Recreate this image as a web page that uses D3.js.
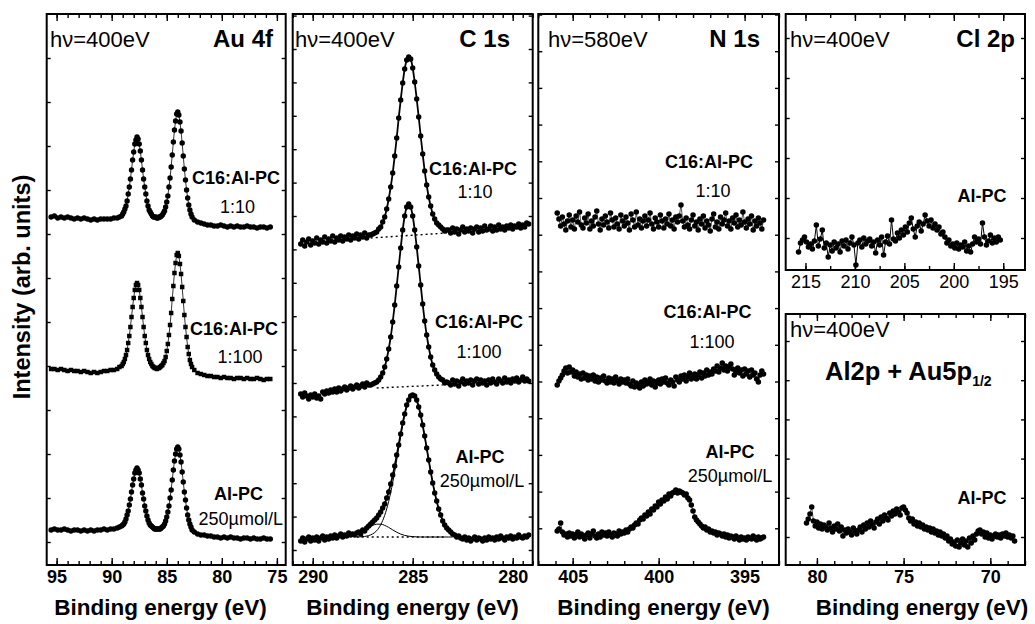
<!DOCTYPE html>
<html>
<head>
<meta charset="utf-8">
<script src="https://cdn.jsdelivr.net/npm/d3@7"></script>
<style>
  body { margin: 0; background: #fff; }
  svg text { font-family: "Liberation Sans", Arial, Helvetica, sans-serif; fill: #000; }
</style>
</head>
<body>
<div id="chart"></div>
<script>
// ---------- Au 4f (hv = 400 eV) ----------
var au4fEnergy = [95.5,95.2,94.9,94.6,94.3,94.0,93.7,93.4,93.1,92.8,92.5,92.2,91.9,91.6,91.3,91.0,90.7,90.4,90.1,89.8,89.5,89.3,89.1,
  89.0,88.9,88.8,88.7,88.6,88.5,88.4,88.3,88.2,88.1,88.0,87.9,87.8,87.7,87.6,87.5,87.4,87.3,87.2,87.1,87.0,86.9,86.8,86.7,86.6,86.5,86.4,
  86.3,86.2,86.1,86.0,85.9,85.8,85.7,85.6,85.5,85.4,85.3,85.2,85.1,85.0,84.9,84.8,84.7,84.6,84.5,84.4,84.3,84.2,84.1,84.0,
  83.9,83.8,83.7,83.6,83.5,83.4,83.3,83.2,83.1,83.0,82.9,82.8,82.7,
  82.5,82.2,81.9,81.6,81.3,81.0,80.7,80.4,80.1,79.8,79.5,79.2,78.9,78.6,78.3,78.0,77.7,77.4,77.1,76.8,76.5,76.2,75.9,75.6];
var au4fC16_10 = [348,349,347,348,347,348,347,346,347,346,347,346,345,346,345,346,346,346,346,347,347,348,349,
  351,353,356,359,364,371,378,386,395,405,413,421,425,428,426,421,414,405,395,386,378,371,364,359,355,353,351,
  349,348,348,348,347,347,348,348,349,350,352,354,358,363,369,378,387,398,410,423,435,444,451,453,
  450,443,434,422,409,396,385,375,367,360,355,351,348,
  345,343,342,341,340,340,339,339,340,339,338,339,338,339,338,338,339,338,338,337,338,338,337,338];
var au4fC16_100 = [196,196,195,196,195,194,195,194,194,193,194,193,192,193,192,193,194,194,195,195,196,198,199,
  201,203,206,210,215,222,229,238,248,258,267,275,280,282,280,275,267,258,248,238,229,222,215,210,206,203,201,
  199,198,197,197,196,197,197,198,199,200,202,204,208,214,221,230,240,252,266,279,292,302,310,312,
  309,301,291,278,264,250,238,228,218,211,205,201,198,
  195,192,191,190,189,189,188,188,187,188,187,187,186,187,187,186,187,186,186,187,186,185,186,186];
var au4fAlPC = [35,36,35,35,36,35,34,35,35,34,35,34,35,34,35,35,36,35,36,36,37,38,39,
  40,41,43,46,50,54,60,66,73,80,86,92,95,97,95,92,86,80,72,66,59,54,49,45,42,40,39,
  38,37,36,36,36,36,36,36,37,38,39,41,44,48,53,59,67,75,85,95,104,111,116,118,
  116,110,103,93,83,73,65,57,50,45,41,38,35,
  33,31,30,30,29,29,28,28,27,28,27,28,27,27,26,27,27,26,27,26,26,27,26,26];

// ---------- C 1s (hv = 400 eV) ----------
var c1sEnergy = [290.6,290.5,290.4,290.3,290.2,290.1,290.0,289.9,289.8,289.7,289.6,289.5,289.4,289.3,289.2,289.1,289.0,
  288.9,288.8,288.7,288.6,288.5,288.4,288.3,288.2,288.1,288.0,287.9,287.8,287.7,287.6,287.5,287.4,287.3,287.2,
  287.1,287.0,286.9,286.8,286.7,286.6,286.5,286.4,286.3,286.2,286.1,286.0,285.9,285.8,285.7,285.6,285.5,285.4,285.3,285.2,
  285.1,285.0,284.9,284.8,284.7,284.6,284.5,284.4,284.3,284.2,284.1,284.0,283.9,283.8,283.7,283.6,283.5,283.4,283.3,
  283.2,283.1,283.0,282.9,282.8,282.7,282.6,282.5,282.4,282.3,282.2,282.1,282.0,281.9,281.8,281.7,281.6,281.5,281.4,281.3,
  281.2,281.1,281.0,280.9,280.8,280.7,280.6,280.5,280.4,280.3,280.2,280.1,280.0,279.9,279.8,279.7,279.6,279.5,279.4,279.3,279.2];
var c1sC16_10 = [321,325,319,323,326,320,324,
  322,327,321,325,323,328,322,326,324,329,
  323,327,325,329,324,328,326,330,325,329,
  327,331,326,330,328,332,327,330,
  330,331,332,333,336,338,343,348,356,366,378,392,409,427,447,465,482,496,505,508,
  506,497,483,466,448,429,411,394,380,368,359,351,346,342,340,338,336,334,335,
  335,332,337,333,336,331,335,338,333,336,
  334,337,332,336,338,333,337,334,339,335,
  336,339,334,338,335,340,336,338,335,339,
  337,340,336,339,338,341,337,340,338,342,341];
var c1sC16_100 = [171,168,172,169,166,170,168,
  171,167,169,166,173,171,174,172,175,173,
  176,173,177,174,176,178,175,177,179,176,
  178,180,177,179,181,178,182,180,
  180,181,182,183,185,188,192,198,206,216,228,243,260,279,298,317,335,349,358,361,
  358,349,335,318,299,280,261,244,230,218,208,200,195,191,188,186,185,182,183,
  182,180,185,181,184,179,183,186,181,184,
  182,185,180,184,186,181,185,182,184,180,
  185,182,186,183,181,186,184,182,187,183,
  185,182,186,184,187,183,185,188,184,186,184];
var c1sAlPC = [24,27,23,26,28,24,27,
  25,28,24,27,29,25,28,26,29,27,
  30,27,29,31,28,30,29,32,30,31,
  30,32,33,31,35,34,37,39,
  41,43,45,47,50,53,57,61,67,73,81,90,99,110,120,131,142,151,160,165,
  169,170,169,165,158,150,140,129,117,105,93,82,72,64,56,50,44,40,37,
  35,33,31,30,28,29,27,26,28,25,
  27,24,26,28,25,27,26,24,27,25,
  28,26,27,25,28,26,29,27,25,28,
  27,29,26,28,27,30,28,27,29,28,30];
// fit of the Al-PC C 1s spectrum: envelope, main component, high-BE shoulder
var c1sFitEnergy = [288.0,287.8,287.6,287.4,287.2,287.0,286.8,286.6,286.4,286.2,286.0,285.8,285.6,285.4,285.2,285.0,
  284.8,284.6,284.4,284.2,284.0,283.8,283.6,283.4,283.2,283.0,282.8,282.6];
var c1sFitEnvelope = [29.6,30.9,33.0,35.7,39.0,42.7,47.1,53.0,61.3,73.3,89.5,109.7,131.5,151.4,165.4,170.4,
  164.7,149.8,128.6,104.9,82.4,63.7,49.7,40.2,34.3,31.1,29.4,28.6];
var c1sFitMain = [28.0,28.0,28.2,28.6,29.4,31.1,34.3,40.2,49.7,63.7,82.4,104.9,128.6,149.8,164.6,170.0,
  164.6,149.8,128.6,104.9,82.4,63.7,49.7,40.2,34.3,31.1,29.4,28.6];
var c1sFitShoulder = [29.6,30.9,32.8,35.1,37.6,39.6,40.8,40.8,39.6,37.6,35.1,32.8,30.9,29.6,28.8,28.4,
  28.1,28.0,28.0,28.0,28.0,28.0,28.0,28.0,28.0,28.0];
// linear backgrounds [energy, intensity]
var c1sBackgrounds = [
  [[287.1, 327], [283.3, 332]],
  [[286.8, 177], [283.5, 180]],
  [[287.8, 28], [283.4, 28]]
];

// ---------- N 1s (hv = 580 eV) ----------
var n1sEnergy = [405.9,405.8,405.7,405.6,405.5,405.4,405.3,405.2,405.1,405.0,
  404.9,404.8,404.7,404.6,404.5,404.4,404.3,404.2,404.1,404.0,
  403.9,403.8,403.7,403.6,403.5,403.4,403.3,403.2,403.1,403.0,
  402.9,402.8,402.7,402.6,402.5,402.4,402.3,402.2,402.1,402.0,
  401.9,401.8,401.7,401.6,401.5,401.4,401.3,401.2,401.1,401.0,
  400.9,400.8,400.7,400.6,400.5,400.4,400.3,400.2,400.1,400.0,
  399.9,399.8,399.7,399.6,399.5,399.4,399.3,399.2,399.1,399.0,
  398.9,398.8,398.7,398.6,398.5,398.4,398.3,398.2,398.1,398.0,
  397.9,397.8,397.7,397.6,397.5,397.4,397.3,397.2,397.1,397.0,
  396.9,396.8,396.7,396.6,396.5,396.4,396.3,396.2,396.1,396.0,
  395.9,395.8,395.7,395.6,395.5,395.4,395.3,395.2,395.1,395.0,
  394.9,394.8,394.7,394.6,394.5,394.4,394.3,394.2,394.1,394.0,393.9];
var n1sC16_10 = [352,346,339,348,341,335,344,350,338,345,
  336,349,343,353,340,337,347,342,351,336,
  344,339,348,354,341,335,346,340,349,343,
  337,352,345,338,347,341,336,350,344,339,
  348,342,335,351,345,338,353,340,346,337,
  344,349,339,345,352,341,336,347,343,338,
  350,344,337,346,341,351,339,345,336,348,
  343,349,360,344,338,347,340,336,345,350,
  339,343,335,346,341,349,337,344,340,334,
  346,351,338,343,336,348,341,345,352,339,
  344,336,347,342,350,338,345,340,353,343,
  337,346,341,349,335,344,339,347,342,336,345];
var n1sC16_100 = [180,184,187,190,194,197,192,198,193,195,
  189,193,188,191,186,192,187,190,185,189,
  186,190,184,188,183,187,185,189,184,182,
  187,183,186,182,188,184,181,186,183,185,
  182,186,181,179,184,178,182,180,177,183,
  179,185,181,183,186,180,184,178,182,185,
  181,186,183,187,182,180,185,183,179,188,
  185,183,189,186,190,184,188,192,186,189,
  191,186,190,193,187,192,189,195,190,193,
  191,196,194,199,193,197,202,195,199,194,
  198,201,196,190,194,197,192,195,189,196,
  191,194,188,195,190,192,186,183,190,194,191];
var n1sAlPC = [34,36,42,33,30,31,28,32,29,31,
  27,30,33,28,31,29,26,30,32,27,
  31,34,29,27,31,28,33,30,32,29,
  33,30,28,32,31,29,34,31,33,32,
  35,33,36,38,37,40,42,41,45,47,
  46,50,49,53,51,56,55,59,58,63,
  61,65,64,68,66,71,69,72,73,75,
  72,74,73,72,70,71,67,65,60,54,
  48,45,43,41,39,37,38,35,36,33,
  34,32,33,30,32,31,29,31,28,30,
  27,29,28,26,29,27,25,28,26,27,
  25,28,27,26,29,27,25,28,26,27,28];

// ---------- Cl 2p (hv = 400 eV) ----------
var cl2pEnergy = [215.7,215.5,215.3,215.1,214.9,214.7,214.5,214.3,214.1,213.9,
  213.7,213.5,213.3,213.1,212.9,212.7,212.5,212.3,212.1,211.9,
  211.7,211.5,211.3,211.1,210.9,210.7,210.5,210.3,210.1,209.9,
  209.7,209.5,209.3,209.1,208.9,208.7,208.5,208.3,208.1,207.9,
  207.7,207.5,207.3,207.1,206.9,206.7,206.5,206.3,206.1,205.9,
  205.7,205.5,205.3,205.1,204.9,204.7,204.5,204.3,204.1,203.9,
  203.7,203.5,203.3,203.1,202.9,202.7,202.5,202.3,202.1,201.9,
  201.7,201.5,201.3,201.1,200.9,200.7,200.5,200.3,200.1,199.9,
  199.7,199.5,199.3,199.1,198.9,198.7,198.5,198.3,198.1,197.9,
  197.7,197.5,197.3,197.1,196.9,196.7,196.5,196.3,196.1,195.9,
  195.7,195.5,195.3];
var cl2pAlPC = [18,27,30,33,28,23,26,21,29,45,
  24,31,40,22,27,13,25,19,28,22,
  26,18,29,24,30,21,27,33,25,5,
  27,30,23,32,26,29,31,24,28,17,
  30,25,33,15,28,34,26,50,31,29,
  37,32,40,35,43,38,47,52,41,33,
  44,48,39,46,55,49,44,50,42,46,
  40,43,36,38,33,27,30,24,26,22,
  27,21,25,23,28,19,24,18,26,33,
  28,31,26,47,33,25,29,35,27,32,
  28,33,30];

// ---------- Al 2p + Au 5p1/2 (hv = 400 eV) ----------
var al2pEnergy = [80.6,80.5,80.4,80.3,80.2,80.1,80.0,79.9,79.8,79.7,
  79.6,79.5,79.4,79.3,79.2,79.1,79.0,78.9,78.8,78.7,
  78.6,78.5,78.4,78.3,78.2,78.1,78.0,77.9,77.8,77.7,
  77.6,77.5,77.4,77.3,77.2,77.1,77.0,76.9,76.8,76.7,
  76.6,76.5,76.4,76.3,76.2,76.1,76.0,75.9,75.8,75.7,
  75.6,75.5,75.4,75.3,75.2,75.1,75.0,74.9,74.8,74.7,
  74.6,74.5,74.4,74.3,74.2,74.1,74.0,73.9,73.8,73.7,
  73.6,73.5,73.4,73.3,73.2,73.1,73.0,72.9,72.8,72.7,
  72.6,72.5,72.4,72.3,72.2,72.1,72.0,71.9,71.8,71.7,
  71.6,71.5,71.4,71.3,71.2,71.1,71.0,70.9,70.8,70.7,
  70.6,70.5,70.4,70.3,70.2,70.1,70.0,69.9,69.8,69.7,
  69.6,69.5,69.4,69.3,69.2,69.1,69.0,68.9,68.8,68.7,68.6];
var al2pAlPC = [42,46,51,58,44,39,43,37,41,36,
  40,38,35,42,37,33,39,36,41,34,
  38,29,35,32,36,33,30,37,34,31,
  35,38,33,40,36,42,38,44,40,37,
  43,46,41,48,44,50,47,45,52,49,
  54,51,56,53,50,57,58,55,52,47,
  44,46,41,43,39,42,38,40,36,38,
  35,37,33,36,32,34,30,33,29,31,
  27,29,24,26,21,23,19,25,18,22,
  26,20,24,18,27,22,29,25,31,34,
  35,31,33,28,32,27,30,26,29,31,
  28,30,27,31,29,32,28,30,27,29,24];

var svg = d3.select("#chart").append("svg")
    .attr("width", 1035).attr("height", 624);
svg.append("rect").attr("width", 1035).attr("height", 624).attr("fill", "#fff");

function makePanel(x0, x1, y0, y1, xDomain, yMax){
  var g = svg.append("g");
  return {
    g: g, x0: x0, x1: x1, y0: y0, y1: y1,
    x: d3.scaleLinear().domain(xDomain).range([x0, x1]),
    y: d3.scaleLinear().domain([0, yMax]).range([y1, y0])
  };
}

function axes(p, majors, minors, yTicks, boldLabels){
  var g = p.g;
  g.append("g").attr("transform", "translate(0," + p.y1 + ")")
    .call(d3.axisBottom(p.x).tickValues(minors).tickSize(-4).tickFormat(""));
  g.append("g").attr("transform", "translate(0," + p.y0 + ")")
    .call(d3.axisTop(p.x).tickValues(minors).tickSize(-4).tickFormat(""));
  g.append("g").attr("transform", "translate(0," + p.y0 + ")")
    .call(d3.axisTop(p.x).tickValues(majors).tickSize(-7).tickFormat(""));
  var lab = g.append("g").attr("transform", "translate(0," + p.y1 + ")")
    .call(d3.axisBottom(p.x).tickValues(majors).tickSize(-7).tickPadding(5.5).tickFormat(d3.format("d")));
  lab.selectAll("text")
     .attr("font-size", 18)
     .attr("font-weight", boldLabels ? "bold" : "normal");
  g.append("g").attr("transform", "translate(" + p.x0 + ",0)")
    .call(d3.axisLeft(p.y).tickValues(yTicks).tickSize(-4).tickFormat(""));
  g.append("g").attr("transform", "translate(" + p.x1 + ",0)")
    .call(d3.axisRight(p.y).tickValues(yTicks).tickSize(-4).tickFormat(""));
  g.selectAll(".domain").remove();
  g.selectAll(".tick line").attr("stroke", "#000").attr("stroke-width", 1.4);
}

function frame(p){
  p.g.append("rect")
     .attr("x", p.x0).attr("y", p.y0)
     .attr("width", p.x1 - p.x0).attr("height", p.y1 - p.y0)
     .attr("fill", "none").attr("stroke", "#000").attr("stroke-width", 2);
}

function series(p, energy, values, opt){
  var pts = d3.zip(energy, values);
  if (opt.line) {
    p.g.append("path").datum(pts)
       .attr("fill", "none").attr("stroke", opt.lineColor || "#000")
       .attr("stroke-width", opt.lineWidth || 1)
       .attr("d", d3.line().x(function(d){ return p.x(d[0]); }).y(function(d){ return p.y(d[1]); }));
  }
  var sym = d3.symbol().type(opt.square ? d3.symbolSquare : d3.symbolCircle).size(opt.size || 22);
  p.g.append("g").selectAll("path").data(pts).enter().append("path")
     .attr("transform", function(d){ return "translate(" + p.x(d[0]) + "," + p.y(d[1]) + ")"; })
     .attr("d", sym).attr("fill", "#000");
}

function curve(p, energy, values, width, dash){
  p.g.append("path").datum(d3.zip(energy, values))
     .attr("fill", "none").attr("stroke", "#000").attr("stroke-width", width)
     .attr("stroke-dasharray", dash || null)
     .attr("d", d3.line().curve(d3.curveMonotoneX)
        .x(function(d){ return p.x(d[0]); }).y(function(d){ return p.y(d[1]); }));
}

function text(x, y, str, size, weight, anchor){
  return svg.append("text").attr("x", x).attr("y", y)
     .attr("font-size", size).attr("font-weight", weight || "normal")
     .attr("text-anchor", anchor || "start").text(str);
}

// ----- panel 1: Au 4f -----
var p1 = makePanel(46.7, 285.7, 14, 565, [95.9, 74.2], 551);
axes(p1, [95, 90, 85, 80, 75], d3.range(75, 96, 1), d3.range(23, 551, 44), true);
series(p1, au4fEnergy, au4fC16_10, {line: true, lineWidth: 0.8, size: 23});
series(p1, au4fEnergy, au4fC16_100, {line: true, lineWidth: 0.8, size: 20, square: true});
series(p1, au4fEnergy, au4fAlPC, {line: true, lineWidth: 0.8, size: 23});
frame(p1);

// ----- panel 2: C 1s -----
var p2 = makePanel(292.7, 532.7, 14, 565, [291, 279], 551);
axes(p2, [290, 285, 280], d3.range(279, 291.01, 0.5), d3.range(15, 551, 33.4), true);
c1sBackgrounds.forEach(function(b){
  curve(p2, b.map(function(d){ return d[0]; }), b.map(function(d){ return d[1]; }), 1.4, "2,3");
});
series(p2, c1sEnergy, c1sC16_10, {size: 23});
series(p2, c1sEnergy, c1sC16_100, {size: 23});
series(p2, c1sEnergy, c1sAlPC, {size: 23});
curve(p2, c1sEnergy.slice(36, 73), c1sC16_10.slice(36, 73), 1.8);
curve(p2, c1sEnergy.slice(36, 73), c1sC16_100.slice(36, 73), 1.8);
curve(p2, c1sFitEnergy, c1sFitEnvelope, 1.8);
curve(p2, c1sFitEnergy.slice(1), c1sFitMain.slice(1), 1);
curve(p2, c1sFitEnergy.slice(0, c1sFitShoulder.length), c1sFitShoulder, 1);
frame(p2);

// ----- panel 3: N 1s -----
var p3 = makePanel(538.3, 779, 14, 565, [407, 393], 551);
axes(p3, [405, 400, 395], d3.range(393, 408, 1), d3.range(36.7, 551, 36.7), true);
series(p3, n1sEnergy, n1sC16_10, {line: true, lineColor: "#444", lineWidth: 0.9, size: 24});
series(p3, n1sEnergy, n1sC16_100, {line: true, lineColor: "#444", lineWidth: 0.9, size: 24});
series(p3, n1sEnergy, n1sAlPC, {line: true, lineColor: "#444", lineWidth: 0.9, size: 24});
frame(p3);

// ----- panel 4 top: Cl 2p -----
var p4 = makePanel(785.7, 1025, 14, 270, [217, 192.8], 256);
axes(p4, [215, 210, 205, 200, 195], d3.range(195, 216, 2.5), d3.range(32, 256, 40), false);
series(p4, cl2pEnergy, cl2pAlPC, {line: true, lineWidth: 1, size: 24});
frame(p4);

// ----- panel 4 bottom: Al 2p + Au 5p1/2 -----
var p5 = makePanel(785.7, 1025, 314, 565, [81.8, 68], 251);
axes(p5, [80, 75, 70], d3.range(68, 82, 1), d3.range(28, 251, 39.2), true);
series(p5, al2pEnergy, al2pAlPC, {line: true, lineColor: "#444", lineWidth: 0.9, size: 24});
frame(p5);

// ----- texts -----
text(50, 47, "h\u03bd=400eV", 22);
text(273, 47, "Au 4f", 24, "bold", "end");
text(280, 184, "C16:Al-PC", 18, "bold", "end");
text(237.5, 213, "1:10", 18, "normal", "middle");
text(278, 335, "C16:Al-PC", 18, "bold", "end");
text(240, 363, "1:100", 18, "normal", "middle");
text(263, 500, "Al-PC", 18, "bold", "end");
text(283, 525, "250\u00b5mol/L", 18, "normal", "end");

text(295, 47, "h\u03bd=400eV", 22);
text(510, 47, "C 1s", 24, "bold", "end");
text(473, 175, "C16:Al-PC", 18, "bold", "middle");
text(475, 198, "1:10", 18, "normal", "middle");
text(479, 328, "C16:Al-PC", 18, "bold", "middle");
text(479, 358, "1:100", 18, "normal", "middle");
text(480, 463, "Al-PC", 18, "bold", "middle");
text(482, 487, "250\u00b5mol/L", 18, "normal", "middle");

text(548, 47, "h\u03bd=580eV", 22);
text(760, 47, "N 1s", 24, "bold", "end");
text(709, 168, "C16:Al-PC", 18, "bold", "middle");
text(713, 197, "1:10", 18, "normal", "middle");
text(707.5, 318, "C16:Al-PC", 18, "bold", "middle");
text(712, 348, "1:100", 18, "normal", "middle");
text(730, 458, "Al-PC", 18, "bold", "middle");
text(730, 482, "250\u00b5mol/L", 18, "normal", "middle");

text(790, 47, "h\u03bd=400eV", 22);
text(1015, 47, "Cl 2p", 24, "bold", "end");
text(982, 202, "Al-PC", 18, "bold", "middle");

text(790, 337, "h\u03bd=400eV", 22);
var t = text(825, 380, "Al2p + Au5p", 25.5, "bold");
t.append("tspan").attr("font-size", 14).attr("dy", 6).text("1/2");
text(982, 504, "Al-PC", 18, "bold", "middle");

[160.5, 412.5, 663.5, 922].forEach(function(cx){
  text(cx, 615, "Binding energy (eV)", 22.5, "bold", "middle");
});

svg.append("text")
   .attr("transform", "translate(30,287) rotate(-90)")
   .attr("font-size", 23.5).attr("font-weight", "bold")
   .attr("text-anchor", "middle")
   .text("Intensity (arb. units)");
</script>
</body>
</html>
